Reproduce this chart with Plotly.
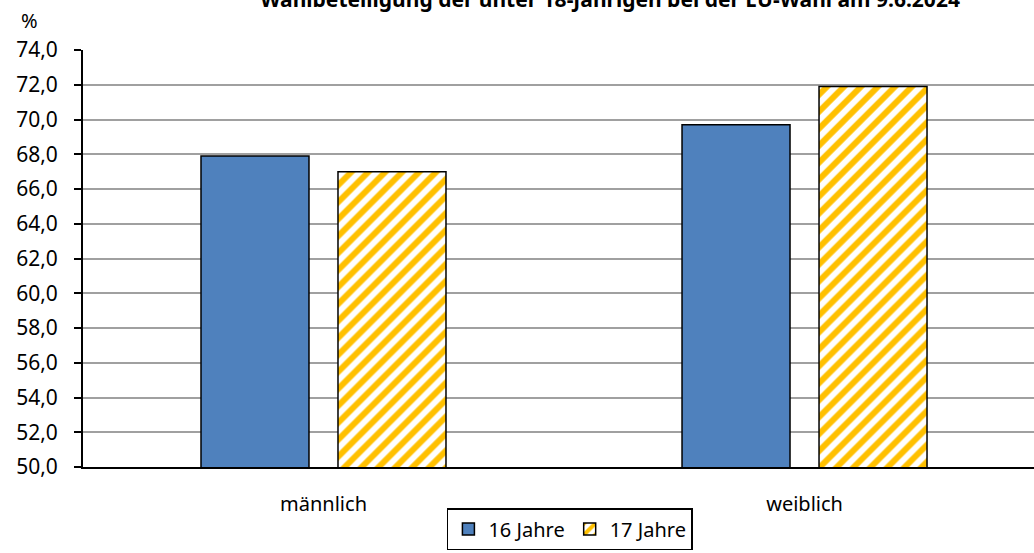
import plotly.graph_objects as go

categories = ["männlich", "weiblich"]
series_names = ["16 Jahre", "17 Jahre"]
values_16 = [67.9, 69.7]
values_17 = [67.0, 71.9]

fig = go.Figure()
fig.add_trace(go.Bar(
    x=categories, y=values_16, name=series_names[0],
    width=0.2245, offset=-0.2547,
    marker=dict(color="#4F81BD", line=dict(color="black", width=1.5)),
))
fig.add_trace(go.Bar(
    x=categories, y=values_17, name=series_names[1],
    width=0.2245, offset=0.0301,
    marker=dict(
        color="white",
        line=dict(color="black", width=1.5),
        pattern=dict(shape="/", fgcolor="#FFC000", bgcolor="white",
                     size=12, solidity=0.5, fgopacity=1),
    ),
))

fig.update_layout(
    width=1034, height=553,
    separators=",.",
    font=dict(family="Noto Sans", size=20, color="black"),
    plot_bgcolor="white", paper_bgcolor="white",
    barmode="overlay",
    margin=dict(l=83, r=0, t=50, b=86, autoexpand=False),
    title=dict(
        text="<b>Wahlbeteiligung der unter 18-Jährigen bei der EU-Wahl am 9.6.2024</b>",
        x=0.59, xanchor="center", y=1, yanchor="middle", yref="container",
        font=dict(size=21),
    ),
    legend=dict(
        orientation="h", x=0.512, xanchor="center", y=(467 - 508) / 417, yanchor="top",
        bordercolor="black", borderwidth=1.5, font=dict(size=20),
        itemwidth=30, tracegroupgap=0,
    ),
    annotations=[dict(
        text="%", xref="paper", yref="paper", x=(29 - 83) / 951, y=(467 - 21) / 417,
        showarrow=False, font=dict(size=20), xanchor="center", yanchor="middle",
    )],
)
fig.update_xaxes(
    range=[-0.5, 1.477], showline=True, linecolor="black", linewidth=2,
    ticks="", showgrid=False, tickfont=dict(size=20), ticklabelstandoff=18,
    automargin=False,
)
fig.update_yaxes(
    range=[50, 74], dtick=2, tickformat=".1f",
    showline=True, linecolor="black", linewidth=2,
    ticks="outside", ticklen=7, tickcolor="black", tickwidth=2,
    showgrid=True, gridcolor="#A0A0A0", gridwidth=1.5,
    tickfont=dict(size=21), ticklabelstandoff=12, automargin=False,
)

fig.write_html("out.html", config={"displayModeBar": False},
               post_script="document.body.style.margin='0';")
